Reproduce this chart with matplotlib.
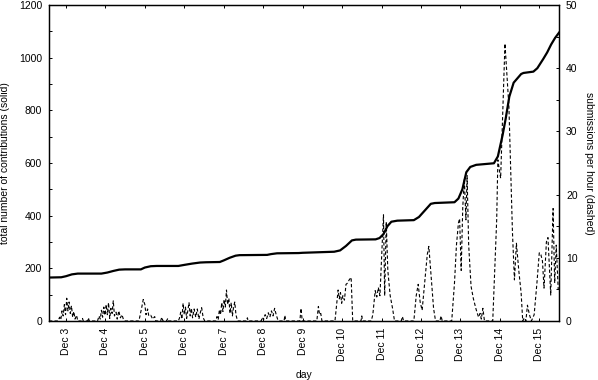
import matplotlib
matplotlib.use("Agg")
import matplotlib.pyplot as plt
from matplotlib.ticker import MultipleLocator

plt.rcParams['font.family'] = ['Liberation Sans', 'DejaVu Sans']
plt.rcParams['font.size'] = 7.5

# cumulative number of contributions (solid), x in day-of-month (December)
solid_day = [2.57, 2.88, 3.00, 3.15, 3.30, 3.90, 4.05, 4.20, 4.35, 4.50,
             4.90, 5.00, 5.15, 5.30, 5.85, 6.00, 6.20, 6.40, 6.55, 6.90,
             7.00, 7.15, 7.30, 7.40, 8.10, 8.20, 8.35, 8.90, 9.00, 9.80,
             9.95, 10.10, 10.25, 10.35, 10.85, 10.95, 11.05, 11.15, 11.25, 11.40,
             11.82, 11.95, 12.10, 12.25, 12.35, 12.85, 12.95, 13.05, 13.15, 13.25,
             13.40, 13.85, 13.95, 14.07, 14.15, 14.24, 14.35, 14.54, 14.60, 14.85,
             14.95, 15.10, 15.20, 15.30, 15.40, 15.50]
solid_total = [165, 166, 170, 177, 180, 180, 184, 190, 195, 196,
               196, 203, 208, 209, 209, 213, 218, 222, 223, 224,
               230, 240, 248, 250, 251, 254, 257, 258, 259, 263,
               268, 285, 306, 309, 310, 315, 330, 360, 377, 381,
               383, 395, 420, 445, 448, 451, 465, 500, 565, 585,
               593, 599, 625, 706, 770, 852, 905, 938, 942, 947,
               960, 995, 1020, 1050, 1075, 1095]

# submissions per hour (dashed)
dash_day = [2.57, 2.80, 2.84, 2.87, 2.90, 2.93, 2.96, 2.99, 3.02, 3.05,
            3.08, 3.11, 3.14, 3.17, 3.20, 3.23, 3.27, 3.30, 3.40, 3.42,
            3.44, 3.55, 3.57, 3.59, 3.80, 3.84, 3.87, 3.90, 3.93, 3.96,
            3.99, 4.02, 4.05, 4.08, 4.11, 4.14, 4.17, 4.20, 4.23, 4.27,
            4.30, 4.34, 4.38, 4.42, 4.46, 4.50, 4.85, 4.88, 4.92, 4.96,
            5.00, 5.03, 5.07, 5.10, 5.15, 5.20, 5.25, 5.28, 5.40, 5.43,
            5.46, 5.55, 5.58, 5.60, 5.85, 5.88, 5.91, 5.94, 5.97, 6.00,
            6.03, 6.06, 6.09, 6.12, 6.15, 6.18, 6.21, 6.25, 6.29, 6.33,
            6.37, 6.41, 6.44, 6.48, 6.52, 6.80, 6.83, 6.86, 6.89, 6.92,
            6.95, 6.98, 7.01, 7.04, 7.07, 7.10, 7.13, 7.16, 7.19, 7.22,
            7.25, 7.28, 7.31, 7.35, 7.58, 7.60, 7.62, 7.95, 7.98, 8.01,
            8.05, 8.09, 8.13, 8.17, 8.21, 8.25, 8.29, 8.33, 8.37, 8.40,
            8.53, 8.55, 8.57, 8.93, 8.96, 8.99, 9.36, 9.40, 9.43, 9.46,
            9.49, 9.82, 9.86, 9.90, 9.93, 9.96, 9.99, 10.02, 10.06, 10.10,
            10.14, 10.18, 10.23, 10.27, 10.48, 10.50, 10.52, 10.74, 10.78, 10.84,
            10.88, 10.92, 10.96, 11.05, 11.08, 11.12, 11.16, 11.22, 11.28, 11.33,
            11.50, 11.53, 11.56, 11.82, 11.88, 11.93, 11.98, 12.03, 12.10, 12.16,
            12.20, 12.26, 12.32, 12.37, 12.48, 12.51, 12.54, 12.78, 12.85, 12.90,
            12.95, 12.98, 13.02, 13.06, 13.10, 13.14, 13.17, 13.21, 13.27, 13.33,
            13.40, 13.46, 13.50, 13.53, 13.57, 13.61, 13.82, 13.87, 13.92, 13.95,
            14.02, 14.13, 14.23, 14.32, 14.37, 14.42, 14.48, 14.54, 14.58, 14.62,
            14.66, 14.70, 14.75, 14.80, 14.87, 14.94, 15.00, 15.04, 15.08, 15.12,
            15.18, 15.22, 15.29, 15.35, 15.39, 15.43, 15.48]
dash_rate = [0, 0, 0.6, 0.2, 1.6, 0.8, 2.6, 1.0, 3.6, 1.6,
             3.0, 1.2, 2.4, 0.6, 1.5, 0.3, 0.9, 0, 0, 0.4,
             0, 0, 0.5, 0, 0, 0.8, 0.3, 1.7, 0.6, 2.2,
             0.9, 2.6, 1.0, 2.9, 0.4, 2.0, 1.2, 3.2, 0.8, 1.4,
             0.3, 1.6, 0.5, 1.0, 0.2, 0, 0, 0.9, 2.1, 3.4,
             2.6, 1.0, 1.9, 0.8, 0.9, 0.3, 0.7, 0, 0, 0.6,
             0, 0, 0.4, 0, 0, 0.5, 1.4, 0.3, 2.8, 1.0,
             2.2, 0.4, 1.6, 2.9, 0.8, 2.0, 0.5, 1.9, 0.6, 1.9,
             0.3, 1.4, 2.1, 0.5, 0, 0, 0.7, 0.2, 1.8, 1.0,
             2.9, 1.5, 3.4, 2.2, 4.9, 2.6, 3.6, 1.2, 2.9, 0.8,
             2.2, 3.0, 1.0, 0, 0, 0.5, 0, 0, 0.6, 0.2,
             1.0, 0.4, 1.3, 0.6, 1.6, 0.8, 2.0, 1.0, 0.2, 0,
             0, 0.9, 0, 0, 2.0, 0, 0, 2.3, 1.0, 1.2,
             0, 0, 2.5, 4.9, 3.5, 4.5, 2.8, 4.0, 3.3, 5.8,
             6.0, 6.5, 6.9, 0, 0, 0.8, 0, 0, 1.0, 4.8,
             3.8, 5.3, 4.0, 16.8, 4.0, 15.7, 8.0, 4.0, 2.0, 0,
             0, 0.7, 0, 0, 4.0, 5.8, 3.0, 1.7, 6.5, 10.5,
             11.8, 7.0, 2.0, 0, 0, 0.8, 0, 0, 6.0, 12.0,
             15.5, 16.2, 8.0, 18.0, 22.5, 16.0, 23.0, 12.0, 5.5, 3.5,
             1.8, 0.6, 1.2, 0.3, 2.0, 0, 0, 8.0, 16.0, 25.5,
             22.6, 43.9, 33.9, 14.0, 6.5, 12.3, 8.0, 4.4, 0, 0.5,
             0, 2.5, 1.0, 0, 1.0, 6.0, 10.8, 10.5, 9.5, 5.2,
             12.5, 13.2, 4.1, 17.8, 6.0, 12.0, 5.0]

day_ticks = list(range(3, 16))
day_labels = ["Dec %d" % d for d in day_ticks]

fig = plt.figure(figsize=(5.98, 3.80), dpi=100)
ax = fig.add_axes([0.0819, 0.1553, 0.8529, 0.8315])
ax2 = ax.twinx()

ax.plot(solid_day, solid_total, color='black', lw=1.6, zorder=3)
ax2.plot(dash_day, dash_rate, color='black', lw=0.8, dashes=(3, 2))

ax.set_xlim(2.57, 15.50)
ax.set_ylim(0, 1200)
ax2.set_ylim(0, 50)

ax.set_xticks(day_ticks)
ax.set_xticklabels(day_labels, rotation=90)
ax.yaxis.set_major_locator(MultipleLocator(200))
ax.yaxis.set_minor_locator(MultipleLocator(100))
ax2.yaxis.set_major_locator(MultipleLocator(10))
ax2.yaxis.set_minor_locator(MultipleLocator(5))

ax.tick_params(axis='x', which='both', direction='in', top=True, length=2.5, width=0.7, pad=5)
ax.tick_params(axis='y', which='both', direction='in', right=False, length=2.5, width=0.7, pad=5)
ax2.tick_params(axis='y', which='both', direction='in', length=2.5, width=0.7, pad=5)

for a in (ax, ax2):
    for s in a.spines.values():
        s.set_linewidth(0.9)

ax.set_xlabel("day", labelpad=6)
ax.set_ylabel("total number of contributions (solid)", labelpad=6)
ax2.set_ylabel("submissions per hour (dashed)", rotation=270, labelpad=12)

fig.savefig("out.png", dpi=100)
